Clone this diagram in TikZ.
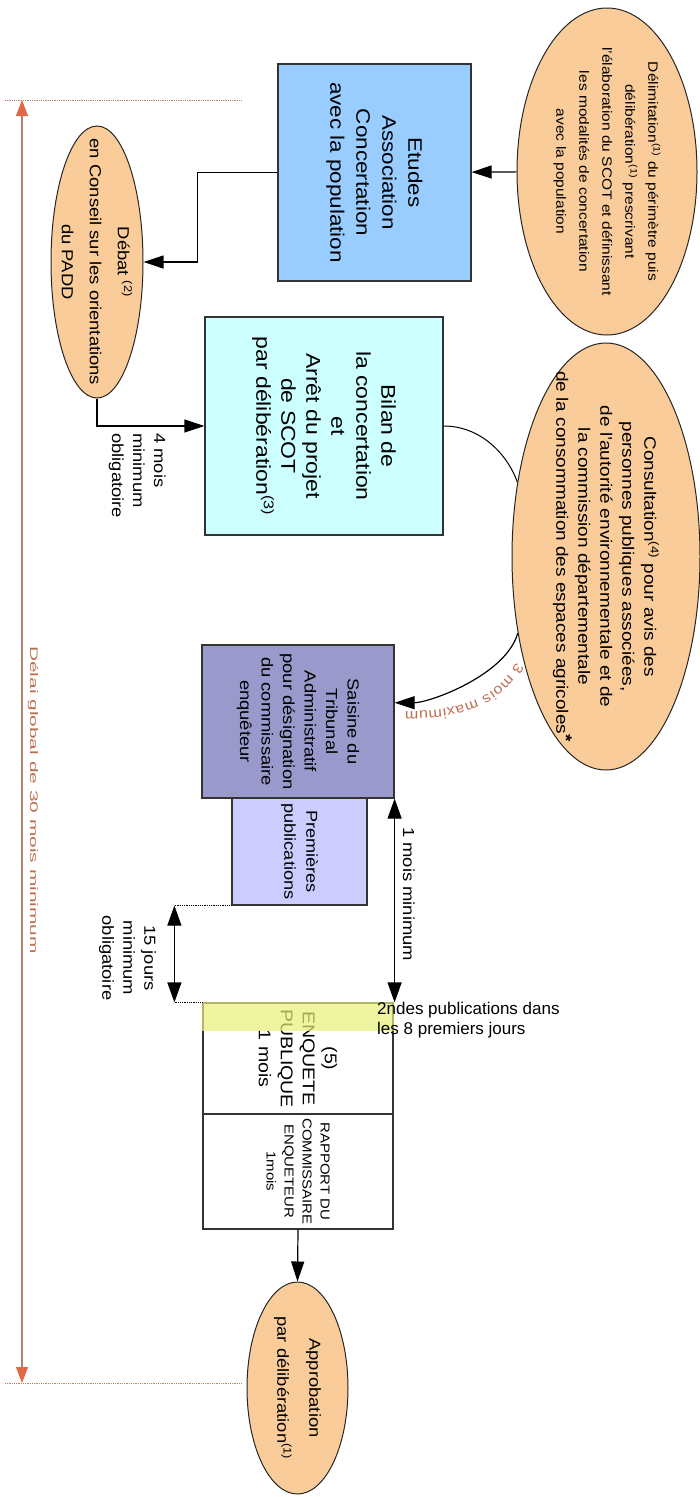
\documentclass[tikz,border=0pt]{standalone}
\usepackage{fontspec}
\setmainfont{Liberation Sans}[FakeStretch=1.15]
\newfontfamily\flatfont{Liberation Sans}
\newfontfamily\widefont{Liberation Sans}[FakeStretch=1.9]
\usetikzlibrary{arrows.meta,shapes.geometric,decorations.text,calc}
\definecolor{peach}{RGB}{250,204,153}
\definecolor{etudesblue}{RGB}{153,204,255}
\definecolor{bilancyan}{RGB}{204,255,255}
\definecolor{saisineviolet}{RGB}{153,153,204}
\definecolor{publililac}{RGB}{204,204,255}
\definecolor{bandyellow}{RGB}{232,240,120}
\definecolor{rust}{RGB}{190,110,80}
\definecolor{rustline}{RGB}{175,130,110}
\definecolor{tipred}{RGB}{225,105,70}
\tikzset{
  phase/.style={ellipse, draw=black!85, line width=1pt, fill=peach, rotate=-90, align=center, inner xsep=-80pt, inner ysep=-20pt},
  stepbox/.style={rectangle, draw=black!80, line width=1.2pt, rotate=-90, align=center, inner sep=0pt},
  note/.style={rotate=-90, inner sep=0pt, font=\fontsize{16}{21}\selectfont},
  arr/.style={line width=1.2pt, -{Triangle[length=20pt,width=13pt]}},
  dimarr/.style={line width=1.2pt, {Triangle[length=20pt,width=14pt]}-{Triangle[length=20pt,width=14pt]}},
  guide/.style={densely dotted, line width=0.8pt}
}
\begin{document}
\begin{tikzpicture}[x=1pt,y=-1pt]
  \useasboundingbox (0,0) rectangle (700,1497);
  % rotated page: north = right, south = left, east = bottom, west = top
  \node[phase, minimum width=327pt, minimum height=180pt, font=\fontsize{13.5}{23}\selectfont] (delim) at (607,171.5)
    {Délimitation\textsuperscript{(1)} du périmètre puis\\délibération\textsuperscript{(1)} prescrivant\\l'élaboration du SCOT et définissant\\les modalités de concertation\\avec la population};
  \node[stepbox, fill=etudesblue, minimum width=217pt, minimum height=193pt, font=\fontsize{19.5}{26}\selectfont] (etudes) at (374.5,172.5)
    {Etudes\\Association\\Concertation\\avec la population};
  \node[phase, minimum width=272pt, minimum height=92pt, font=\fontsize{16}{28}\selectfont] (debat) at (97,262)
    {Débat \textsuperscript{(2)}\\en Conseil sur les orientations\\du PADD};
  \node[stepbox, fill=bilancyan, minimum width=218pt, minimum height=238pt, font=\fontsize{20}{25}\selectfont] (bilan) at (324,426)
    {Bilan de\\la concertation\\et\\Arrêt du projet\\de SCOT\\par délibération\textsuperscript{(3)}};
  \node[phase, minimum width=427pt, minimum height=188pt, font=\fontsize{16.5}{22}\selectfont] (consult) at (606,556.5)
    {Consultation\textsuperscript{(4)} pour avis des\\personnes publiques associées,\\de l'autorité environnementale et de\\la commission départementale\\de la consommation des espaces agricoles\raisebox{4pt}{\textbf{*}}};
  \node[stepbox, fill=saisineviolet, minimum width=153pt, minimum height=192pt, font=\fontsize{16}{21.5}\selectfont] (saisine) at (298,721.5)
    {Saisine du\\Tribunal\\Administratif\\pour désignation\\du commissaire\\enquêteur};
  \node[stepbox, fill=publililac, minimum width=107pt, minimum height=135pt, font=\fontsize{15.8}{22}\selectfont] (premieres) at (299.5,851.5)
    {Premières\\publications};
  \node[stepbox, minimum width=111pt, minimum height=190pt, font=\fontsize{17}{22}\selectfont] (enquete) at (298,1058.5)
    {(5)\\ENQUETE\\PUBLIQUE\\1 mois};
  \node[stepbox, minimum width=115pt, minimum height=190pt, font=\fontsize{13}{18}\selectfont] (rapport) at (298,1171.5)
    {RAPPORT DU\\COMMISSAIRE\\ENQUETEUR\\1mois};
  \node[phase, minimum width=212pt, minimum height=101pt, font=\fontsize{16}{32}\selectfont] (approb) at (297.5,1388)
    {Approbation\\par délibération\textsuperscript{(1)}};
  \fill[bandyellow, opacity=0.7] (enquete.south west) rectangle ($(enquete.north west)+(0,29)$);

  \draw[arr] (delim) -- (etudes);
  \draw[arr] (etudes.south) -- ++(-80,0) |- (debat.north);
  \draw[arr] (debat.east) |- (bilan.south);
  \draw[line width=1pt] (bilan.north) .. controls +(37,0) and +(-10,-28) .. (consult.230);
  \draw[arr] (consult.311) .. controls +(-12,42) and +(35,0) .. (saisine.101);
  \path[decorate, decoration={text along path, text format delimiters={|}{|}, text align=fit to path,
    text={|\fontsize{14}{14}\selectfont\color{rust}|3 mois maximum}}] (516,662) .. controls (498,697) and (463,712) .. (405,711);
  \draw[arr] (rapport.east) -- (approb.west);

  \node[note, anchor=north west, align=left] (quatre) at (166,433) {4 mois\\minimum\\obligatoire};
  \node[note, anchor=base west] (unmois) at (403,827) {1 mois minimum};
  \node[note, align=center] (quinze) at (127.5,958) {15 jours\\minimum\\obligatoire};
  \node[anchor=north west, align=left, inner sep=0pt, font=\flatfont\fontsize{17}{20}\selectfont] (secondes) at (377,1002)
    {2ndes publications dans\\les 8 premiers jours};

  \draw[dimarr] (saisine.north east) -- (saisine.north east |- enquete.north west);
  \draw[guide] (premieres.south east) -- ++(-57,0) coordinate (q1);
  \draw[guide] (enquete.south west) -- (enquete.south west -| q1) coordinate (q2);
  \draw[dimarr] (q1) -- (q2);

  \coordinate (dtop) at (22,100);
  \coordinate (dbot) at (22,1383);
  \draw[guide, rustline] (5,100) -- (242,100);
  \draw[guide, rustline] (5,1383) -- (242,1383);
  \draw[rustline, line width=1.2pt, {Triangle[length=16pt,width=12pt,color=tipred]}-{Triangle[length=16pt,width=12pt,color=tipred]}] (dtop) -- (dbot);
  \node[note, font=\widefont\fontsize{11}{12}\selectfont, text=rust] (delai) at (33,800) {Délai global de 30 mois minimum};
\end{tikzpicture}
\end{document}
